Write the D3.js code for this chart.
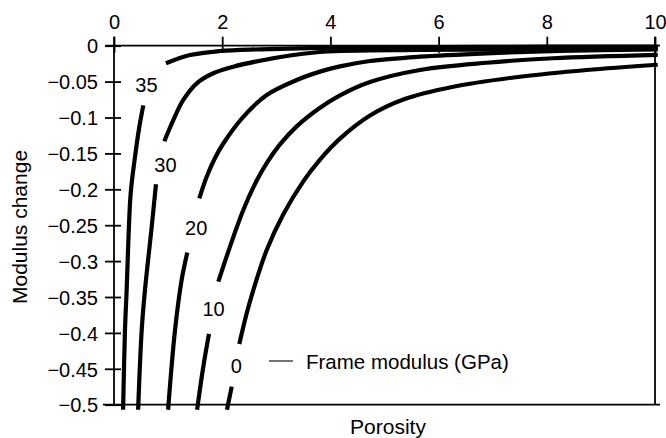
<!DOCTYPE html>
<html>
<head>
<meta charset="utf-8">
<script src="https://cdn.jsdelivr.net/npm/d3@7/dist/d3.min.js"></script>
<style>
  html, body { margin: 0; padding: 0; background: #fff; }
  svg { display: block; }
  text { font-family: "Liberation Sans", Arial, Helvetica, sans-serif; fill: #000; }
</style>
</head>
<body>
<svg id="chart" width="666" height="438"></svg>
<script>
// Frame moduli (GPa) of the plotted curves
const frameModulus = [35, 30, 20, 10, 0];

// Porosity / modulus change pairs for each curve; null marks the break left for the curve label
const porosity35 = [0.168, 0.203, 0.234, 0.264, 0.309, 0.388, 0.468, 0.542, null, 0.961, 1.405, 1.959, 2.70, 3.99, 6.0, 8.0, 10.05];
const change35   = [-0.507, -0.396, -0.340, -0.275, -0.205, -0.155, -0.113, -0.083, null, -0.0245, -0.0130, -0.0074, -0.0050, -0.0028, -0.0018, -0.0014, -0.0012];

const porosity30 = [0.446, 0.512, 0.573, 0.697, 0.776, null, 0.930, 1.096, 1.281, 1.529, 1.835, 2.205, 2.699, 3.314, 3.869, 5.656, 7.745, 10.05];
const change30   = [-0.507, -0.396, -0.340, -0.252, -0.193, null, -0.133, -0.1035, -0.0756, -0.0524, -0.0384, -0.0292, -0.0209, -0.0130, -0.0084, -0.0060, -0.0050, -0.0039];

const porosity20 = [1.000, 1.128, 1.251, 1.355, null, 1.577, 1.713, 1.867, 2.020, 2.390, 2.823, 3.377, 3.808, 4.177, 4.732, 5.656, 6.889, 8.244, 10.05];
const change20   = [-0.507, -0.396, -0.326, -0.288, null, -0.2125, -0.1825, -0.1564, -0.1362, -0.0990, -0.0687, -0.0478, -0.0361, -0.0288, -0.0213, -0.0153, -0.0106, -0.0071, -0.0050];

const porosity10 = [1.536, 1.651, 1.756, null, 1.928, 2.144, 2.390, 2.638, 2.823, 3.068, 3.377, 3.808, 4.177, 4.732, 5.656, 6.889, 8.115, 10.05];
const change10   = [-0.507, -0.447, -0.4015, null, -0.3287, -0.2799, -0.2288, -0.1877, -0.1634, -0.1375, -0.1124, -0.0865, -0.0692, -0.0506, -0.0338, -0.0237, -0.0175, -0.0128];

const porosity0  = [2.088, 2.176, null, 2.316, 2.453, 2.575, 2.823, 3.130, 3.499, 3.808, 4.177, 4.732, 5.348, 6.272, 7.505, 8.738, 10.05];
const change0    = [-0.507, -0.4749, null, -0.4155, -0.3727, -0.3403, -0.2845, -0.2348, -0.1889, -0.1586, -0.1294, -0.0972, -0.0749, -0.0571, -0.0432, -0.0338, -0.0265];

// Where each curve's label sits (porosity, modulus change)
const labelPorosity = [0.60, 0.95, 1.52, 1.84, 2.26];
const labelChange   = [-0.055, -0.166, -0.254, -0.366, -0.446];

// Axis ticks
const xTicks = [0, 2, 4, 6, 8, 10];
const yTicks = [0, -0.05, -0.1, -0.15, -0.2, -0.25, -0.3, -0.35, -0.4, -0.45, -0.5];

const curves = [
  [porosity35, change35],
  [porosity30, change30],
  [porosity20, change20],
  [porosity10, change10],
  [porosity0, change0]
].map(([p, c], i) => ({
  modulus: frameModulus[i],
  points: p.map((v, j) => ({ phi: v, dk: c[j] }))
}));

const svg = d3.select("#chart");

const x = d3.scaleLinear().domain([0, 10]).range([114, 655]);
const y = d3.scaleLinear().domain([0, -0.5]).range([45.7, 404.7]);

// Frame
const frame = svg.append("g").attr("stroke", "#000").attr("stroke-width", 1.8);
frame.append("line").attr("x1", 105).attr("x2", 660).attr("y1", y(0)).attr("y2", y(0));
frame.append("line").attr("x1", 103).attr("x2", 660).attr("y1", y(-0.5)).attr("y2", y(-0.5));
frame.append("line").attr("x1", x(0)).attr("x2", x(0)).attr("y1", y(0) - 9).attr("y2", y(-0.5));
frame.append("line").attr("x1", x(10)).attr("x2", x(10)).attr("y1", y(0) - 9).attr("y2", y(-0.5));

// Top porosity axis
const gx = svg.append("g")
  .attr("transform", `translate(0,${y(0)})`)
  .call(d3.axisTop(x).tickValues(xTicks).tickSize(9).tickSizeOuter(0).tickFormat(d3.format("d")));
gx.select(".domain").remove();
gx.selectAll(".tick line").attr("y1", 7).attr("stroke", "#000").attr("stroke-width", 1.8);
gx.selectAll(".tick text")
  .attr("y", -16.5).attr("dy", 0)
  .style("font-size", "20px").style("font-family", "'Liberation Sans', Arial, sans-serif").attr("fill", "#000");

// Left modulus-change axis
const fmtY = v => v === 0 ? "0" : "\u2212" + (+Math.abs(v).toFixed(2));
const gy = svg.append("g")
  .attr("transform", `translate(${x(0)},0)`)
  .call(d3.axisLeft(y).tickValues(yTicks).tickSize(9).tickSizeOuter(0).tickFormat(fmtY));
gy.select(".domain").remove();
gy.selectAll(".tick line").attr("x1", 7).attr("stroke", "#000").attr("stroke-width", 1.8);
gy.selectAll(".tick text")
  .attr("x", -16).attr("dy", "0.36em")
  .style("font-size", "20px").style("font-family", "'Liberation Sans', Arial, sans-serif").attr("fill", "#000");

// Curves
const line = d3.line()
  .defined(d => d.phi !== null && d.dk !== null)
  .x(d => x(d.phi))
  .y(d => y(d.dk))
  .curve(d3.curveCatmullRom.alpha(0.5));

svg.append("g")
  .selectAll("path")
  .data(curves)
  .join("path")
  .attr("d", d => line(d.points))
  .attr("fill", "none")
  .attr("stroke", "#000")
  .attr("stroke-width", 4.2)
  .attr("stroke-linecap", "butt");

// Curve labels
svg.append("g")
  .selectAll("text")
  .data(frameModulus)
  .join("text")
  .attr("x", (d, i) => x(labelPorosity[i]))
  .attr("y", (d, i) => y(labelChange[i]))
  .attr("text-anchor", "middle")
  .attr("dy", "0.36em")
  .style("font-size", "20px")
  .text(d => d);

// Legend
svg.append("line")
  .attr("x1", 269).attr("x2", 293).attr("y1", 361).attr("y2", 361)
  .attr("stroke", "#000").attr("stroke-width", 1.1);
svg.append("text")
  .attr("x", 306).attr("y", 369)
  .style("font-size", "20.5px")
  .text("Frame modulus (GPa)");

// Axis titles
svg.append("text")
  .attr("x", 388).attr("y", 434)
  .attr("text-anchor", "middle")
  .style("font-size", "21px")
  .text("Porosity");
svg.append("text")
  .attr("transform", "translate(27,227) rotate(-90)")
  .attr("text-anchor", "middle")
  .style("font-size", "21px")
  .text("Modulus change");
</script>
</body>
</html>
